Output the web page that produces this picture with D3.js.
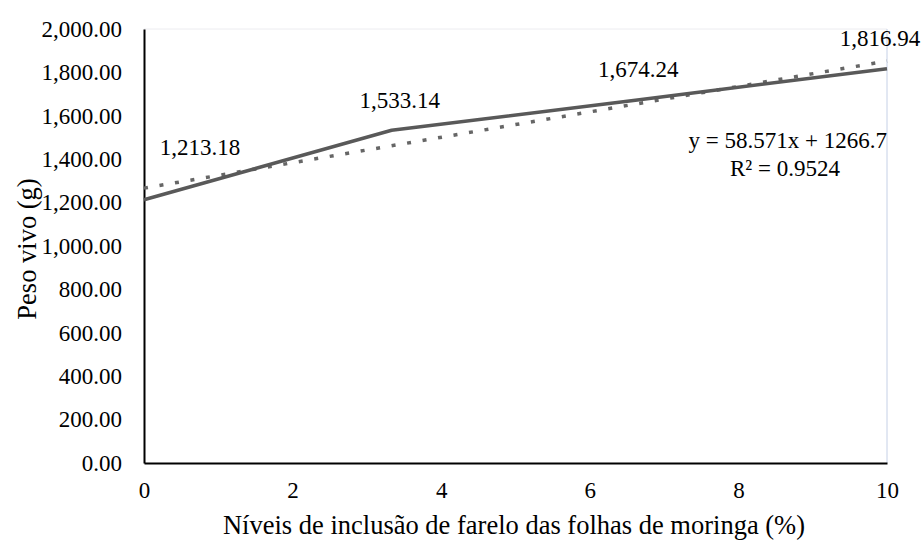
<!DOCTYPE html>
<html><head><meta charset="utf-8">
<script src="https://cdn.jsdelivr.net/npm/d3@7/dist/d3.min.js"></script>
</head><body style="margin:0">
<svg id="c" width="923" height="540"></svg>
<script>
const xValues = [0, 3.333, 6.667, 10];
const pesoVivo = [1213.18, 1533.14, 1674.24, 1816.94];
const pointLabels = ["1,213.18", "1,533.14", "1,674.24", "1,816.94"];
const yTicks = [0, 200, 400, 600, 800, 1000, 1200, 1400, 1600, 1800, 2000];
const xTicks = [0, 2, 4, 6, 8, 10];
const trendSlope = 58.571, trendIntercept = 1266.7;
const eqText = "y = 58.571x + 1266.7";
const r2Text = "R² = 0.9524";
const yTitle = "Peso vivo (g)";
const xTitle = "Níveis de inclusão de farelo das folhas de moringa (%)";

const serifFont = "'Liberation Serif', 'Times New Roman', Tinos, 'DejaVu Serif', serif";
const svg = d3.select("#c");
const L = 144, R = 887, T = 29, B = 463;
const x = d3.scaleLinear().domain([0, 10]).range([L, R]);
const y = d3.scaleLinear().domain([0, 2000]).range([B, T]);
const fs = 23, fsTitle = 26.5;

function txt(sel, size) {
  return sel.attr("font-size", size || fs).style("font-family", serifFont).attr("fill", "#000");
}

// light frame top/right
svg.append("line").attr("x1", L).attr("x2", R).attr("y1", T).attr("y2", T).attr("stroke", "#ececf0").attr("stroke-width", 1);
svg.append("line").attr("x1", R).attr("x2", R).attr("y1", T).attr("y2", B).attr("stroke", "#c5d0e6").attr("stroke-width", 1);

// y axis
const yAxis = d3.axisLeft(y).tickValues(yTicks).tickSize(0).tickPadding(22)
  .tickFormat(d => d3.format(",.2f")(d));
const gy = svg.append("g").attr("transform", `translate(${L},0)`).call(yAxis);
gy.attr("font-family", null).attr("font-size", null);
gy.select(".domain").attr("stroke", "#000").attr("stroke-width", 2);
txt(gy.selectAll("text"));

// x axis
const xAxis = d3.axisBottom(x).tickValues(xTicks).tickSize(0).tickPadding(19);
const gx = svg.append("g").attr("transform", `translate(0,${B})`).call(xAxis);
gx.attr("font-family", null).attr("font-size", null);
gx.select(".domain").attr("stroke", "#000").attr("stroke-width", 2);
txt(gx.selectAll("text"));

// trendline
const trend = [0, 10].map(v => [v, trendSlope * v + trendIntercept]);
svg.append("path").datum(trend)
  .attr("d", d3.line().x(d => x(d[0])).y(d => y(d[1])))
  .attr("fill", "none").attr("stroke", "#666666").attr("stroke-width", 3.5)
  .attr("stroke-dasharray", "4,11.7");

// series line
const pts = xValues.map((v, i) => [v, pesoVivo[i]]);
svg.append("path").datum(pts)
  .attr("d", d3.line().x(d => x(d[0])).y(d => y(d[1])))
  .attr("fill", "none").attr("stroke", "#595959").attr("stroke-width", 3.5)
  .attr("stroke-linejoin", "round");

// point labels
const labOff = [[56, -45], [8, -22], [-1, -23], [-7, -23]];
txt(svg.selectAll(".pl").data(pts).enter().append("text")
  .attr("x", (d, i) => x(d[0]) + labOff[i][0])
  .attr("y", (d, i) => y(d[1]) + labOff[i][1])
  .attr("text-anchor", "middle")
  .text((d, i) => pointLabels[i]));

// equation
txt(svg.append("text").attr("x", R).attr("y", 148).attr("text-anchor", "end").text(eqText));
txt(svg.append("text").attr("x", 785).attr("y", 176).attr("text-anchor", "middle").text(r2Text));

// titles
txt(svg.append("text").attr("transform", `translate(36,249) rotate(-90)`)
  .attr("text-anchor", "middle").text(yTitle), fsTitle);
txt(svg.append("text").attr("x", 514).attr("y", 534)
  .attr("text-anchor", "middle").text(xTitle), fsTitle);
</script></body></html>
